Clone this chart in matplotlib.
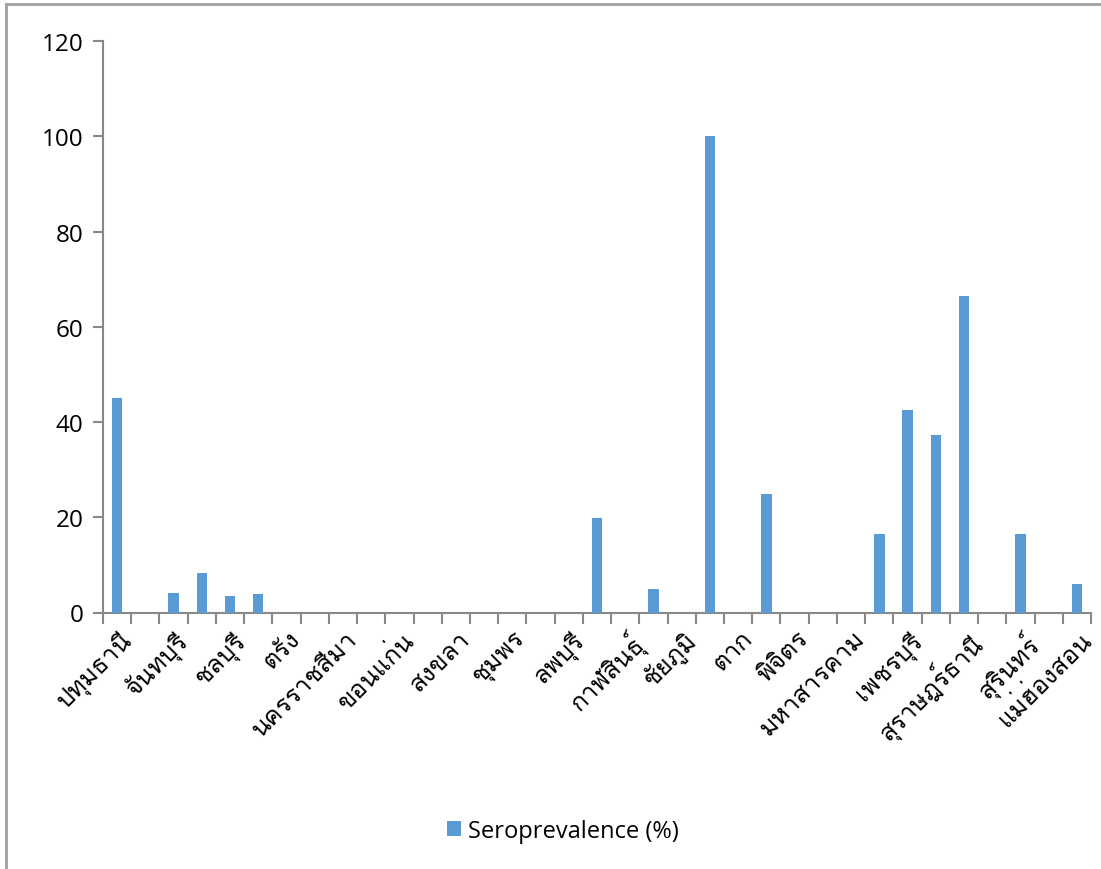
import matplotlib
matplotlib.use("Agg")
import matplotlib.pyplot as plt
from matplotlib import font_manager
from matplotlib.ft2font import FT2Font
from matplotlib.lines import Line2D
from matplotlib.patches import Patch
from matplotlib.transforms import ScaledTranslation

# ---- data -------------------------------------------------------------
shown_labels = ["ปทุมธานี", "จันทบุรี", "ชลบุรี", "ตรัง", "นครราชสีมา", "ขอนแก่น",
                "สงขลา", "ชุมพร", "ลพบุรี", "กาฬสินธุ์", "ชัยภูมิ", "ตาก", "พิจิตร",
                "มหาสารคาม", "เพชรบุรี", "สุราษฎร์ธานี", "สุรินทร์", "แม่ฮ่องสอน"]
# 35 categories; every second one is labelled on the axis
values = [45.1, 0, 4.0, 8.4, 3.4, 3.9, 0, 0, 0, 0,
          0, 0, 0, 0, 0, 0, 0, 19.8, 0, 5.0,
          0, 100, 0, 24.8, 0, 0, 0, 16.4, 42.6, 37.2,
          66.5, 0, 16.4, 0, 6.0]
series_name = "Seroprevalence (%)"
yticks = [0, 20, 40, 60, 80, 100, 120]

# ---- fonts ------------------------------------------------------------
def thai_families():
    found = []
    for f in font_manager.fontManager.ttflist:
        try:
            cm = FT2Font(f.fname).get_charmap()
        except Exception:
            continue
        if 0x0E1B in cm and 0x0E34 in cm and f.name not in found:
            found.append(f.name)
    return found

found = thai_families()
tf = None
for key in ["Loma", "Looped", "Tahoma", "Garuda", "Norasi", "Sarabun", "Kinnari", "Thai"]:
    for nm in found:
        if key in nm:
            tf = nm
            break
    if tf:
        break
if tf is None and found:
    tf = found[0]

latin = "Open Sans"
thai_fams = ([tf] if tf else []) + [latin, "DejaVu Sans"]
plt.rcParams['font.family'] = [latin, "DejaVu Sans"]

bar_color = "#5B9BD5"
axis_color = "#888888"

fig = plt.figure(figsize=(11.01, 8.70), dpi=100)
ax = fig.add_axes([103/1101, 1-613.5/870, (1091-103)/1101, (613.5-42.3)/870])

n = len(values)
x = list(range(n))
ax.bar(x, values, width=0.37, color=bar_color, edgecolor="none", zorder=3)

ax.set_xlim(-0.5, n - 0.5)
ax.set_ylim(0, 120)
ax.set_yticks(yticks)
ax.set_yticklabels([str(v) for v in yticks], fontsize=17.5, color="#000000")

for s in ["top", "right"]:
    ax.spines[s].set_visible(False)
for s in ["left", "bottom"]:
    ax.spines[s].set_color(axis_color)
    ax.spines[s].set_linewidth(1.5)

ax.tick_params(axis="y", direction="out", length=7, width=1.5, color=axis_color, pad=7)

# category boundary ticks
ax.set_xticks([i - 0.5 for i in range(n + 1)])
ax.set_xticklabels([])
ax.tick_params(axis="x", direction="out", length=8, width=1.5, color=axis_color)

# rotated labels for every second category
off = ScaledTranslation(2/100, -14/100, fig.dpi_scale_trans)
for k, lab in enumerate(shown_labels):
    pos = 2 * k
    ax.text(pos, 0, lab, rotation=45, ha="right", va="top", rotation_mode="anchor",
            fontsize=18, family=thai_fams, transform=ax.transData + off, clip_on=False)

# legend
handle = Patch(facecolor=bar_color, edgecolor="none")
fig.legend([handle], [series_name], loc="center", bbox_to_anchor=(563/1101, 1-832/870),
           frameon=False, fontsize=17, handlelength=0.6, handleheight=0.6, handletextpad=0.3)

# outer chart border (left and top)
fig.add_artist(Line2D([6/1101, 6/1101], [0, 1-5/870], transform=fig.transFigure,
                      color="#a0a0a0", lw=2))
fig.add_artist(Line2D([6/1101, 1], [1-5/870, 1-5/870], transform=fig.transFigure,
                      color="#a0a0a0", lw=2))

fig.savefig("out.png", dpi=100)
